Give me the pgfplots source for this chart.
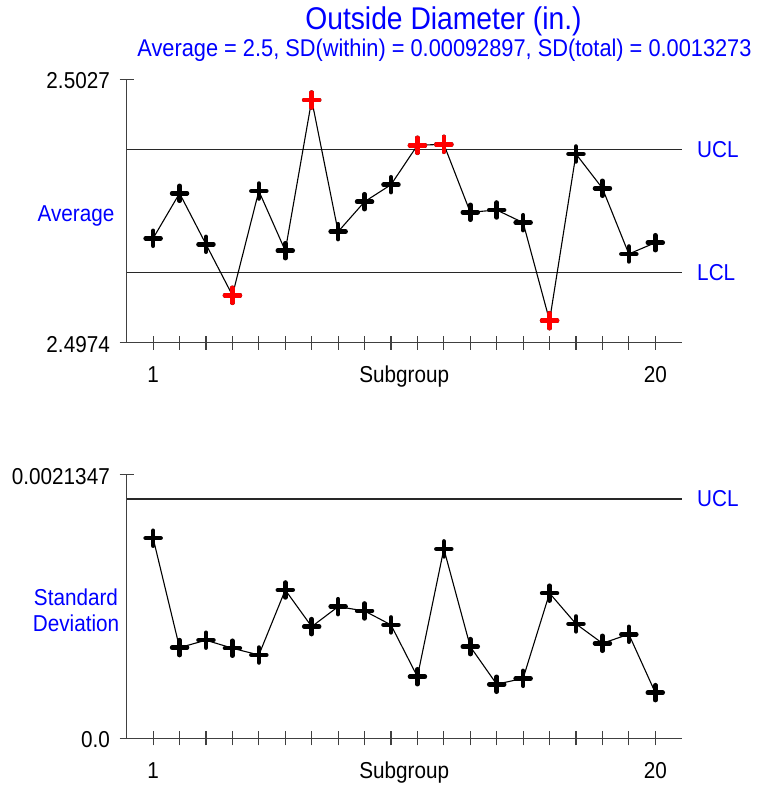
\documentclass[border=0pt]{standalone}
\usepackage{pgfplots}
\usepackage{pgfplotstable}
\pgfplotsset{compat=1.18}
\usepackage{fontspec}
\setmainfont{Liberation Sans}[FakeStretch=0.9]
\definecolor{lblue}{RGB}{0,0,255}
\definecolor{axgray}{RGB}{64,64,64}
\definecolor{ctrl}{RGB}{40,40,40}

% subgroup means; out = 1 marks a point beyond the control limits
\pgfplotstableread{
sg avg      out
1  2.499501 0
2  2.500406 0
3  2.499380 0
4  2.498354 1
5  2.500452 0
6  2.499251 0
7  2.502283 1
8  2.499634 0
9  2.500237 0
10 2.500579 0
11 2.501372 1
12 2.501392 1
13 2.500024 0
14 2.500070 0
15 2.499815 0
16 2.497843 1
17 2.501197 0
18 2.500507 0
19 2.499185 0
20 2.499412 0
}\avgdata

% subgroup standard deviations
\pgfplotstableread{
sg sd
1  0.0016215
2  0.000735
3  0.000795
4  0.000730
5  0.000675
6  0.001202
7  0.000905
8  0.001067
9  0.001032
10 0.000919
11 0.000499
12 0.001535
13 0.000743
14 0.000438
15 0.000486
16 0.001176
17 0.000927
18 0.000770
19 0.000843
20 0.000370
}\sddata

\newcommand{\lblfont}{\fontsize{23}{26}\selectfont}

\pgfplotsset{
  ccchart/.style={
    scale only axis, width=555pt, height=263.4pt,
    xmin=0, xmax=21, clip=false,
    axis x line=bottom, axis y line=left,
    axis line style={-, axgray, line width=1.3pt},
    every tick/.style={axgray, line width=1.1pt},
    tick align=center,
    major tick length=14pt,
    xtick={1,...,20},
    xticklabels={1,{},{},{},{},{},{},{},{},{},{},{},{},{},{},{},{},{},{},20},
    scaled ticks=false,
    tick label style={font=\lblfont},
    xticklabel style={anchor=base, yshift=-33.3pt},
    yticklabel style={anchor=base east, inner sep=0pt, xshift=-9.7pt, yshift=-9.5pt},
    xlabel={Subgroup},
    x label style={font=\lblfont, at={(axis description cs:0.5,0)}, anchor=base, yshift=-40.3pt},
    y label style={font=\lblfont, text=lblue, rotate=-90, align=center,
      at={(axis description cs:0,0.5)}, anchor=center},
  }
}

\begin{document}
\begin{tikzpicture}
\path[use as bounding box] (0,0) rectangle (756pt,786pt);

\node[text=lblue, font=\fontsize{31.4}{34}\selectfont, anchor=base] at (443.5pt,756.7pt) {Outside Diameter (in.)};
\node[text=lblue, font=\fontsize{24.2}{27}\selectfont, anchor=base] at (444.5pt,729.3pt)
  {Average = 2.5, SD(within) = 0.00092897, SD(total) = 0.0013273};

% means chart
\begin{axis}[ccchart, at={(126.7pt,443.3pt)}, anchor=south west,
  ymin=2.4974, ymax=2.5027,
  ytick={2.4974,2.5027}, yticklabels={2.4974,2.5027},
  ylabel={Average}, y label style={xshift=-50.7pt, yshift=-5pt}]
  \addplot[ctrl, line width=1.2pt] coordinates {(0,2.501292) (21,2.501292)};
  \addplot[ctrl, line width=1.2pt] coordinates {(0,2.498809) (21,2.498809)};
  \addplot[black, line width=1.1pt] table[x=sg, y=avg] \avgdata;
  \addplot[black, only marks, mark=+, mark size=7.5pt,
    mark options={line width=4.5pt, line cap=round}] table[x=sg, y=avg] \avgdata;
  \addplot[red, only marks, mark=+, mark size=7.5pt,
    mark options={line width=4.5pt, line cap=round},
    restrict expr to domain={\thisrow{out}}{1:1}] table[x=sg, y=avg] \avgdata;
  \node[text=lblue, font=\lblfont, anchor=west, xshift=12pt] at (axis cs:21,2.501292) {UCL};
  \node[text=lblue, font=\lblfont, anchor=west, xshift=12pt] at (axis cs:21,2.498809) {LCL};
\end{axis}

% standard deviation chart
\begin{axis}[ccchart, at={(126.7pt,47.7pt)}, anchor=south west,
  ymin=0, ymax=0.0021347,
  ytick={0,0.0021347}, yticklabels={0.0,0.0021347},
  ylabel={Standard\\Deviation}, y label style={xshift=-50.7pt, yshift=-3.4pt}]
  \addplot[ctrl, line width=1.2pt] coordinates {(0,0.0019401) (21,0.0019401)};
  \addplot[black, line width=1.1pt] table[x=sg, y=sd] \sddata;
  \addplot[black, only marks, mark=+, mark size=7.5pt,
    mark options={line width=4.5pt, line cap=round}] table[x=sg, y=sd] \sddata;
  \node[text=lblue, font=\lblfont, anchor=west, xshift=12pt] at (axis cs:21,0.0019401) {UCL};
\end{axis}
\end{tikzpicture}
\end{document}
